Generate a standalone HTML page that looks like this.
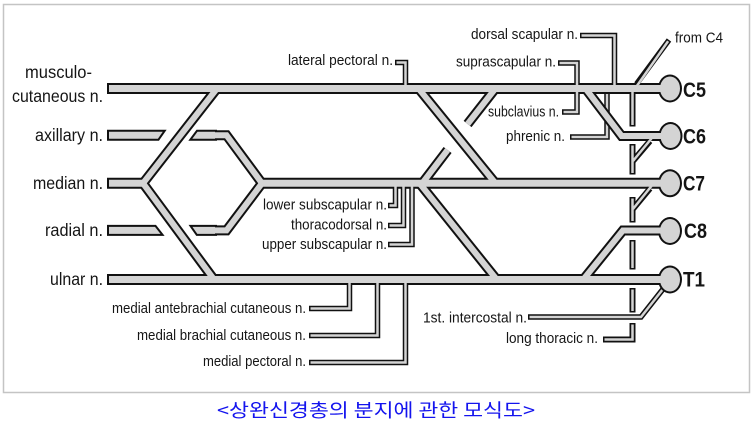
<!DOCTYPE html>
<html><head><meta charset="utf-8"><style>
html,body{margin:0;padding:0;background:#fff;}
svg{display:block;}
text{font-family:"Liberation Sans",Arial,sans-serif;fill:#151515;}
</style></head><body>
<svg width="755" height="429" viewBox="0 0 755 429" xmlns="http://www.w3.org/2000/svg">
<defs>
  <g id="hp">
    <path d="M112.5,88.5 H668" stroke-linecap="square"/>
    <path d="M112.5,183.3 H143" stroke-linecap="square"/>
    <path d="M112.5,279.5 H668" stroke-linecap="square"/>
    <path d="M262,183.3 H668"/>
  </g>
  <g id="dp">
    <path d="M217,88.5 L143,183.3 L214,279.5"/>
    <path d="M212,135.2 H226.5 L262,183.3"/>
    <path d="M212,230.4 H226.5 L262,183.3"/>
    <path d="M418.5,88.5 L495.5,183.3"/>
    <path d="M495.4,88.5 L467.6,124"/>
    <path d="M422.2,183.3 L447.6,150"/>
    <path d="M419.5,183.3 L496.7,279.5"/>
    <path d="M585.5,88.5 L621.6,136 H668"/>
    <path d="M583.3,279.5 L622.9,230.5 H668"/>
  </g>
  <g id="pg">
    <polygon points="109,131.7 162.8,131.7 157.9,138.7 109,138.7"/>
    <polygon points="109,226.9 155,226.9 160.5,233.9 109,233.9"/>
    <polygon points="197.5,131.7 215,131.7 215,138.7 192.3,138.7"/>
    <polygon points="192.4,226.9 215,226.9 215,233.9 197.3,233.9"/>
  </g>
</defs>

<rect width="755" height="429" fill="#fff"/>
<rect x="3.5" y="4.5" width="746" height="388" fill="none" stroke="#c4c4c4" stroke-width="1.5"/>

<!-- connectors behind bands -->
<g fill="none" stroke-linejoin="miter">
  <path d="M607,91 V137 H570 M667,284 L641,317 H528" stroke="#111" stroke-width="5.5"/>
  <path d="M607,91 V137 H571.5 M667,284 L641,317 H529.5" stroke="#d4d4d4" stroke-width="2.5"/>
</g>

<!-- pass 1: black -->
<g stroke-linejoin="miter" stroke-miterlimit="10">
  <use href="#hp" fill="none" stroke="#111" stroke-width="11"/>
  <use href="#dp" fill="none" stroke="#111" stroke-width="10"/>
  <use href="#pg" fill="#111" stroke="#111" stroke-width="4"/>
  <g fill="#111">
    <ellipse cx="670" cy="88.5" rx="12" ry="14"/>
    <ellipse cx="670.5" cy="136" rx="12" ry="14"/>
    <ellipse cx="670" cy="183.3" rx="12" ry="14"/>
    <ellipse cx="670" cy="231" rx="12" ry="14"/>
    <ellipse cx="670" cy="279.5" rx="12" ry="14"/>
  </g>
</g>
<!-- pass 2: gray -->
<g stroke-linejoin="miter" stroke-miterlimit="10">
  <use href="#hp" fill="none" stroke="#d4d4d4" stroke-width="7"/>
  <use href="#dp" fill="none" stroke="#d4d4d4" stroke-width="6"/>
  <use href="#pg" fill="#d4d4d4" stroke="none"/>
  <g fill="#d4d4d4">
    <ellipse cx="670" cy="88.5" rx="10" ry="12"/>
    <ellipse cx="670.5" cy="136" rx="10" ry="12"/>
    <ellipse cx="670" cy="183.3" rx="10" ry="12"/>
    <ellipse cx="670" cy="231" rx="10" ry="12"/>
    <ellipse cx="670" cy="279.5" rx="10" ry="12"/>
  </g>
</g>

<!-- connectors on top -->
<g fill="none" stroke-linejoin="miter">
  <path stroke="#111" stroke-width="5.5" d="
    M395,62.5 H405.5 V84
    M580,35.5 H614.5 V84
    M558,63 H577 V84
    M577,93 V112 H562
    M636.5,84 L669,40
    M388,205.5 H395.5 V188
    M388,225.5 H403.5 V188
    M388,244.5 H412 V188
    M309,308.5 H349.5 V284
    M309,335.5 H377.5 V284
    M309,362.5 H405.5 V284"/>
  <path stroke="#d4d4d4" stroke-width="2.5" d="
    M396.5,62.5 H405.5 V86.5
    M581.5,35.5 H614.5 V86.5
    M559.5,63 H577 V86.5
    M577,90.5 V112 H563.5
    M636.5,86.5 L668.1,41.2
    M389.5,205.5 H395.5 V185.5
    M389.5,225.5 H403.5 V185.5
    M389.5,244.5 H412 V185.5
    M310.5,308.5 H349.5 V281.5
    M310.5,335.5 H377.5 V281.5
    M310.5,362.5 H405.5 V281.5"/>
  <!-- long thoracic -->
  <path stroke="#111" stroke-width="6" d="
    M632.5,92 V126.5
    M632.5,144 V174.5
    M650,141 L633,161
    M632.5,197 V222.5
    M650,188.5 L633,209
    M632.5,240 V269.5
    M632.5,288 V312.5
    M632.5,323 V339.5 H603"/>
  <path stroke="#d4d4d4" stroke-width="2.5" d="
    M632.5,89.5 V125
    M632.5,145.5 V173
    M651.5,138.5 L633,161
    M632.5,198.5 V221
    M651.5,186 L633,209
    M632.5,241.5 V268
    M632.5,289.5 V311
    M632.5,324.5 V339.5 H604.5"/>
</g>

<!-- left labels -->
<g font-size="17.5">
  <text x="25" y="78" textLength="67" lengthAdjust="spacingAndGlyphs">musculo-</text>
  <text x="12" y="102" textLength="91" lengthAdjust="spacingAndGlyphs">cutaneous n.</text>
  <text x="35" y="141" textLength="68" lengthAdjust="spacingAndGlyphs">axillary n.</text>
  <text x="33" y="189" textLength="70" lengthAdjust="spacingAndGlyphs">median n.</text>
  <text x="45" y="236" textLength="58" lengthAdjust="spacingAndGlyphs">radial n.</text>
  <text x="50" y="285" textLength="53" lengthAdjust="spacingAndGlyphs">ulnar n.</text>
</g>

<!-- small labels -->
<g font-size="14.5">
  <text x="288" y="65" textLength="105" lengthAdjust="spacingAndGlyphs">lateral pectoral n.</text>
  <text x="471" y="39" textLength="107" lengthAdjust="spacingAndGlyphs">dorsal scapular n.</text>
  <text x="456" y="66.5" textLength="100" lengthAdjust="spacingAndGlyphs">suprascapular n.</text>
  <text x="488" y="116.5" textLength="71" lengthAdjust="spacingAndGlyphs">subclavius n.</text>
  <text x="506" y="141" textLength="59" lengthAdjust="spacingAndGlyphs">phrenic n.</text>
  <text x="675" y="42.5" textLength="48" lengthAdjust="spacingAndGlyphs">from C4</text>
  <text x="263" y="209.5" textLength="124" lengthAdjust="spacingAndGlyphs">lower subscapular n.</text>
  <text x="291" y="229.5" textLength="96" lengthAdjust="spacingAndGlyphs">thoracodorsal n.</text>
  <text x="262" y="249" textLength="125" lengthAdjust="spacingAndGlyphs">upper subscapular n.</text>
  <text x="112" y="313" textLength="194" lengthAdjust="spacingAndGlyphs">medial antebrachial cutaneous n.</text>
  <text x="137" y="340" textLength="169" lengthAdjust="spacingAndGlyphs">medial brachial cutaneous n.</text>
  <text x="203" y="366" textLength="103" lengthAdjust="spacingAndGlyphs">medial pectoral n.</text>
  <text x="423" y="322.5" textLength="104" lengthAdjust="spacingAndGlyphs">1st. intercostal n.</text>
  <text x="506" y="343" textLength="92" lengthAdjust="spacingAndGlyphs">long thoracic n.</text>
</g>

<!-- root labels -->
<g font-size="21" font-weight="bold">
  <text x="683" y="97" textLength="23" lengthAdjust="spacingAndGlyphs">C5</text>
  <text x="683" y="143.5" textLength="23" lengthAdjust="spacingAndGlyphs">C6</text>
  <text x="683" y="190.5" textLength="22" lengthAdjust="spacingAndGlyphs">C7</text>
  <text x="684" y="238" textLength="23" lengthAdjust="spacingAndGlyphs">C8</text>
  <text x="683" y="286.5" textLength="22" lengthAdjust="spacingAndGlyphs">T1</text>
</g>

<!-- caption -->
<text x="217" y="417" font-size="18.5" textLength="318" lengthAdjust="spacingAndGlyphs" style="font-family:'Noto Sans CJK KR','Liberation Sans',sans-serif;fill:#1414ee;">&lt;상완신경총의 분지에 관한 모식도&gt;</text>
</svg>
</body></html>
